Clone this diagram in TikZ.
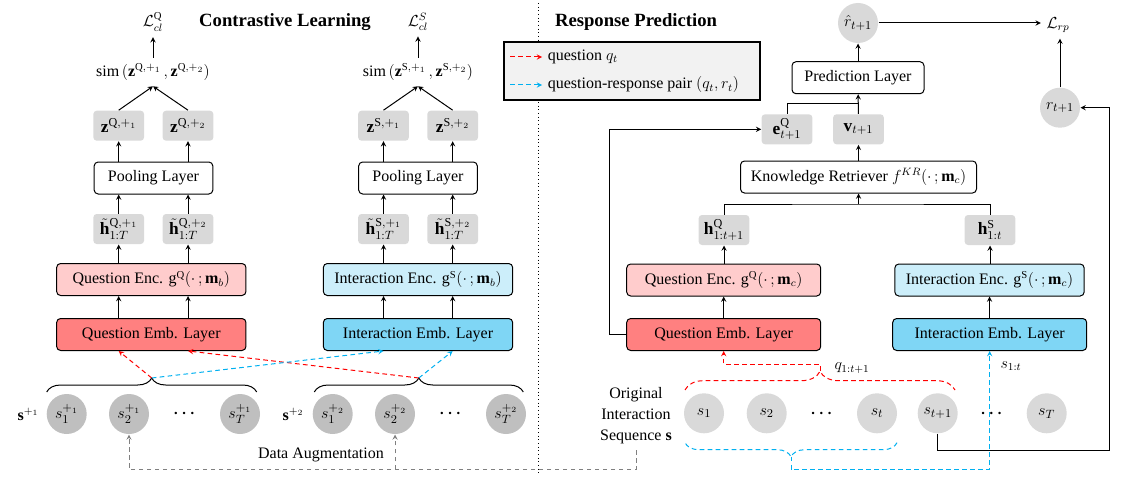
\documentclass[tikz,border=0pt,12pt]{standalone}
\usepackage{amsmath}
\usepackage{fontspec}
\setmainfont{Liberation Serif}
\usetikzlibrary{decorations.pathreplacing}
\definecolor{cajagris}{RGB}{217,217,217}
\definecolor{circgris}{RGB}{191,191,191}
\definecolor{leyenda}{RGB}{242,242,242}
\definecolor{encq}{RGB}{255,204,204}
\definecolor{embq}{RGB}{255,128,128}
\definecolor{encs}{RGB}{204,238,250}
\definecolor{embs}{RGB}{127,214,245}
\definecolor{rojo}{RGB}{255,0,0}
\definecolor{azul}{RGB}{0,176,240}
\definecolor{grisl}{RGB}{128,128,128}
\begin{document}
\begin{tikzpicture}[x=0.75pt, y=-0.75pt, >=stealth, line width=0.75pt,
  capa/.style={draw, rounded corners=3pt, minimum height=24pt, inner sep=2pt},
  gris/.style={fill=cajagris, rounded corners=2.5pt, minimum width=38pt, minimum height=22.5pt, inner sep=1pt, font=\fontsize{13}{15}\selectfont},
  estado/.style={circle, fill=#1, minimum size=30pt, inner sep=0pt, font=\fontsize{13}{15}\selectfont},
  rayas/.style={dash pattern=on 3.5pt off 2.5pt},
  llave/.style={decorate, decoration={brace, amplitude=#1}},
  titulo/.style={font=\fontsize{14}{16}\selectfont\bfseries}]
\useasboundingbox (0,0) rectangle (1146,492);
% Titulos
\node [titulo] (tCL) at (285,22) {Contrastive Learning};
\node [titulo] (tRP) at (636,22) {Response Prediction};
\draw [dotted] (538,3) -- (538,475);
% Leyenda
\draw [fill=leyenda, line width=1pt] (504,42) rectangle (760,100);
\node [anchor=west] (legQ) at (542,57) {question $q_t$};
\node [anchor=west] (legS) at (542,85) {question-response pair $(q_t,r_t)$};
\coordinate (legQa) at (510,57);
\coordinate (legSa) at (510,85);
\path (legQa) edge [->, rojo, rayas] (legQ.west);
\path (legSa) edge [->, azul, rayas] (legS.west);
% ---
% Q (contrastive)
% ---
\node (LQ)   at (153,22)  {$\mathcal{L}_{cl}^{\mathrm{Q}}$};
\node (simQ) at (153,72)  {$\mathrm{sim}\left(\mathbf{z}^{\mathrm{Q},+_1}\,,\mathbf{z}^{\mathrm{Q},+_2}\right)$};
\node [gris] (zQa) at (118.7,125.7) {$\mathbf{z}^{\mathrm{Q},+_1}$};
\node [gris] (zQb) at (188,125.7)   {$\mathbf{z}^{\mathrm{Q},+_2}$};
\node [capa, minimum width=89pt] (poolQ) at (153.5,178) {Pooling Layer};
\node [gris] (hQa) at (118.7,229) {${\tilde{\mathbf{h}}}_{1:T}^{\mathrm{Q},+_1}$};
\node [gris] (hQb) at (188,229)   {${\tilde{\mathbf{h}}}_{1:T}^{\mathrm{Q},+_2}$};
\node [capa, fill=encq, minimum width=142pt] (encQ) at (151.3,279.5) {Question Enc. $\mathrm{g}^{\mathrm{Q}}(\cdot\,;\mathbf{m}_b)$};
\node [capa, fill=embq, minimum width=142pt] (embQ) at (151.3,334.5) {Question Emb. Layer};
% ---
% S (contrastive)
% ---
\node (LS)   at (418,22)  {$\mathcal{L}_{cl}^{S}$};
\node (simS) at (418,72)  {$\mathrm{sim}\left(\mathbf{z}^{\mathrm{S},+_1}\,,\mathbf{z}^{\mathrm{S},+_2}\right)$};
\node [gris] (zSa) at (383.5,125.7) {$\mathbf{z}^{\mathrm{S},+_1}$};
\node [gris] (zSb) at (452.7,125.7) {$\mathbf{z}^{\mathrm{S},+_2}$};
\node [capa, minimum width=89pt] (poolS) at (418,178) {Pooling Layer};
\node [gris] (hSa) at (383.5,229) {${\tilde{\mathbf{h}}}_{1:T}^{\mathrm{S},+_1}$};
\node [gris] (hSb) at (452.7,229) {${\tilde{\mathbf{h}}}_{1:T}^{\mathrm{S},+_2}$};
\node [capa, fill=encs, minimum width=142pt] (encS) at (418,279.5) {Interaction Enc. $\mathrm{g}^{\mathrm{S}}(\cdot\,;\mathbf{m}_b)$};
\node [capa, fill=embs, minimum width=142pt] (embS) at (418,334.5) {Interaction Emb. Layer};
% Ejes
\path (simQ) edge [->] (LQ);
\path (simS) edge [->] (LS);
\foreach \c/\z in {Q/a, Q/b, S/a, S/b} {
  \path (z\c\z.north) edge [->] (sim\c.south);
  \path (pool\c.north -| z\c\z) edge [->] (z\c\z.south);
  \path (h\c\z.north) edge [->] (pool\c.south -| h\c\z);
  \path (enc\c.north -| h\c\z) edge [->] (h\c\z.south);
  \path (emb\c.north -| h\c\z) edge [->] (enc\c.south -| h\c\z);
}
% ---
% Secuencias aumentadas
% ---
\node (sA) at (28.3,414)  {$\mathbf{s}^{+_1}$};
\node [estado=circgris] (s1a) at (66.7,414) {$s_1^{+_1}$};
\node [estado=circgris] (s2a) at (129,414)  {$s_2^{+_1}$};
\node (dA) at (185.7,414) {$\boldsymbol{\cdots}$};
\node [estado=circgris] (sTa) at (240,414)  {$s_T^{+_1}$};
\node (sB) at (293.3,414) {$\mathbf{s}^{+_2}$};
\node [estado=circgris] (s1b) at (332.7,414) {$s_1^{+_2}$};
\node [estado=circgris] (s2b) at (395,414)   {$s_2^{+_2}$};
\node (dB) at (451.7,414) {$\boldsymbol{\cdots}$};
\node [estado=circgris] (sTb) at (506,414)   {$s_T^{+_2}$};
\draw [llave=10.5pt] (46.7,392) -- (256.7,392);
\draw [llave=10.5pt] (314.3,392) -- (523.3,392);
\coordinate (tipA) at (151.7,378);
\coordinate (tipB) at (418.8,378);
\path (tipA) edge [->, rojo, rayas] (embQ.south -| hQa);
\path (tipB) edge [->, rojo, rayas] (embQ.south -| hQb);
\path (tipA) edge [->, azul, rayas] (embS.south -| hSa);
\path (tipB) edge [->, azul, rayas] (embS.south -| hSb);
\node (dAug) at (321,455) {Data Augmentation};
% ---
% Response prediction
% ---
\node [estado=cajagris] (rhat) at (858,23) {$\hat{r}_{t+1}$};
\node (Lrp) at (1058,25) {$\mathcal{L}_{rp}$};
\node [capa, minimum width=99pt] (predL) at (858,77.7) {Prediction Layer};
\node [gris] (eQ) at (787,129.3)   {$\mathbf{e}_{t+1}^{\mathrm{Q}}$};
\node [gris] (vB) at (858.5,129.3) {$\mathbf{v}_{t+1}$};
\node [estado=cajagris] (r) at (1060,107.7) {$r_{t+1}$};
\node [capa, minimum width=177pt] (KR) at (858.5,177) {Knowledge Retriever $f^{KR}(\cdot\,;\mathbf{m}_c)$};
\node [gris] (hQr) at (724,230) {$\mathbf{h}_{1:t+1}^{\mathrm{Q}}$};
\node [gris] (hSr) at (990,230) {$\mathbf{h}_{1:t}^{\mathrm{S}}$};
\node [capa, fill=encq, minimum width=145.5pt] (encQr) at (723.7,280) {Question Enc. $\mathrm{g}^{\mathrm{Q}}(\cdot\,;\mathbf{m}_c)$};
\node [capa, fill=embq, minimum width=145.5pt] (embQr) at (723.7,334.5) {Question Emb. Layer};
\node [capa, fill=encs, minimum width=142pt] (encSr) at (989.5,280) {Interaction Enc. $\mathrm{g}^{\mathrm{S}}(\cdot\,;\mathbf{m}_c)$};
\node [capa, fill=embs, minimum width=145.5pt] (embSr) at (989.7,334.5) {Interaction Emb. Layer};
% Secuencia original
\node [align=center, font=\fontsize{12}{15.75}\selectfont] (orig) at (636,416) {Original\\Interaction\\Sequence $\mathbf{s}$};
\node [estado=cajagris] (s1)  at (704,413.3)   {$s_1$};
\node [estado=cajagris] (s2)  at (766.7,413.3) {$s_2$};
\node (d1) at (823,413.3) {$\boldsymbol{\cdots}$};
\node [estado=cajagris] (st)  at (877,413.3)   {$s_t$};
\node [estado=cajagris] (st1) at (937.7,413.3) {$s_{t+1}$};
\node (d2) at (993,413.3) {$\boldsymbol{\cdots}$};
\node [estado=cajagris] (sT)  at (1046.7,413.3) {$s_T$};
\node (qlab) at (852,368)  {$q_{1:t+1}$};
\node (slab) at (1011,366) {$s_{1:t}$};
% Ejes
\path (rhat.east) edge [->] (Lrp.west |- rhat.east);
\path (r.north) edge [->] (r.north |- Lrp.south);
\path (predL) edge [->] (rhat);
\path (vB) edge [->] (predL);
\draw (eQ.north) |- (vB.north |- 0,104);
\path (KR) edge [->] (vB);
\coordinate (kin) at (858.5,204);
\draw (hQr.north) |- (kin) -| (hSr.north);
\path (kin) edge [->] (KR.south);
\path (encQr.north -| hQr) edge [->] (hQr.south);
\path (embQr) edge [->] (encQr);
\path (encSr.north -| hSr) edge [->] (hSr.south);
\path (embSr.north -| encSr) edge [->] (encSr.south);
\draw [->] (embQr.west) -- ++(-16.7,0) |- (eQ.west);
\coordinate (esq) at (1109,450.7);
\draw [->] (st1.south) |- (esq) |- (r.east);
% Llaves
\draw [llave=14pt, rojo, rayas] (685,390) -- (955,390);
\coordinate (tipR) at (820,371);
\draw [->, rojo, rayas] (tipR) |- (embQr.south |- 0,364.3) -- (embQr.south);
\draw [llave=10.5pt, azul, rayas] (897,442.7) -- (685,442.7);
\coordinate (tipC) at (791,456.7);
\draw [->, azul, rayas] (tipC) |- (embSr.south |- 0,469.3) -- (embSr.south);
% Aumentacion
\coordinate (oin) at (636,469.3);
\draw [->, grisl, rayas] (orig.south) -- (oin) -| (s2a.south);
\path (s2b.south |- oin) edge [->, grisl, rayas] (s2b.south);
\end{tikzpicture}
\end{document}
